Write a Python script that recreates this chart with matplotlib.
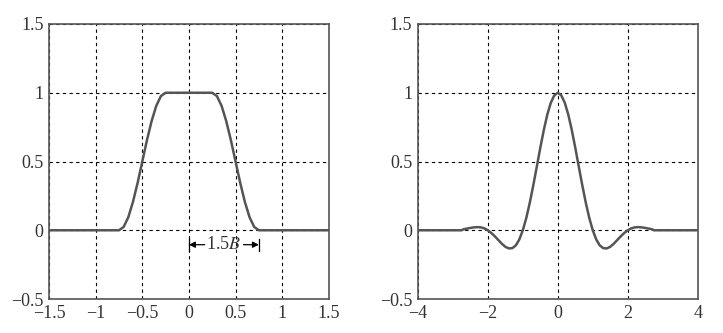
import matplotlib
matplotlib.use("Agg")
import matplotlib.pyplot as plt

plt.rcParams['font.family'] = ['Liberation Serif', 'DejaVu Serif']
plt.rcParams['mathtext.fontset'] = 'stix'
plt.rcParams['axes.unicode_minus'] = True

# Left panel: spectrum
f_vals = [-1.5, -0.75, -0.7, -0.65, -0.6, -0.55, -0.5, -0.45, -0.4, -0.35, -0.3, -0.25,
          0.25, 0.3, 0.35, 0.4, 0.45, 0.5, 0.55, 0.6, 0.65, 0.7, 0.75, 1.5]
H_vals = [0, 0, 0.024, 0.095, 0.206, 0.345, 0.5, 0.655, 0.794, 0.905, 0.976, 1.0,
          1.0, 0.976, 0.905, 0.794, 0.655, 0.5, 0.345, 0.206, 0.095, 0.024, 0, 0]

# Right panel: pulse (right half; mirrored)
t_half = [0.0, 0.1, 0.2, 0.3, 0.4, 0.5, 0.6, 0.7, 0.8, 0.9, 1.0, 1.1, 1.2, 1.3, 1.4,
          1.5, 1.6, 1.7, 1.8, 1.9, 2.0, 2.1, 2.2, 2.3, 2.4, 2.5, 2.6, 2.7, 2.75, 4.0]
h_half = [1.0, 0.981, 0.927, 0.841, 0.729, 0.600, 0.463, 0.328, 0.201, 0.090, 0.0,
          -0.067, -0.110, -0.130, -0.132, -0.120, -0.098, -0.071, -0.044, -0.020, 0.0,
          0.014, 0.021, 0.023, 0.021, 0.017, 0.012, 0.007, 0.0, 0.0]

t_vals = [-t for t in t_half[:0:-1]] + t_half
h_vals = h_half[:0:-1] + h_half

line_col = '#555555'
grid_kw = dict(color='black', linestyle=(0, (3, 3)), linewidth=0.8)

fig = plt.figure(figsize=(7.23, 3.33), dpi=100)
ax1 = fig.add_axes([0.0678, 0.102, 0.387, 0.826])
ax2 = fig.add_axes([0.578, 0.102, 0.387, 0.826])

for ax in (ax1, ax2):
    ax.set_ylim(-0.5, 1.5)
    ax.set_yticks([-0.5, 0, 0.5, 1, 1.5])
    ax.set_yticklabels(['−0.5', '0', '0.5', '1', '1.5'])
    ax.grid(True, **grid_kw)
    ax.tick_params(length=0, labelsize=13, labelcolor='#333333', pad=4)
    for s in ax.spines.values():
        s.set_color('#555555')
        s.set_linewidth(1.2)

ax1.plot(f_vals, H_vals, color=line_col, linewidth=1.8, zorder=3)
ax1.set_xlim(-1.5, 1.5)
ax1.set_xticks([-1.5, -1, -0.5, 0, 0.5, 1, 1.5])
ax1.set_xticklabels(['−1.5', '−1', '−0.5', '0', '0.5', '1', '1.5'])

# 1.5B annotation
ya = -0.105
ax1.plot([0, 0], [ya - 0.045, ya + 0.045], color='black', linewidth=0.9)
ax1.plot([0.75, 0.75], [ya - 0.045, ya + 0.045], color='black', linewidth=0.9)
arr = dict(arrowstyle='-|>', color='black', linewidth=0.9, mutation_scale=9,
           shrinkA=0, shrinkB=0)
ax1.annotate('', xy=(0.0, ya), xytext=(0.17, ya), arrowprops=arr)
ax1.annotate('', xy=(0.75, ya), xytext=(0.585, ya), arrowprops=arr)
ax1.text(0.375, ya, r'1.5$B$', ha='center', va='center', fontsize=13,
         color='#333333')

ax2.plot(t_vals, h_vals, color=line_col, linewidth=1.8, zorder=3)
ax2.set_xlim(-4, 4)
ax2.set_xticks([-4, -2, 0, 2, 4])
ax2.set_xticklabels(['−4', '−2', '0', '2', '4'])

fig.savefig('out.png', dpi=100)
